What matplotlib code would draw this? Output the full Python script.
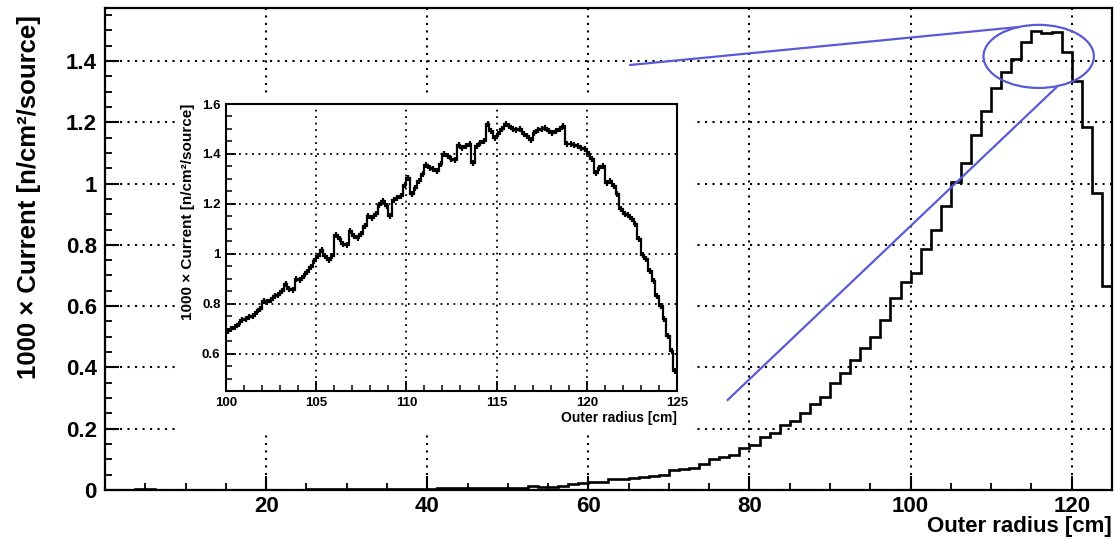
import numpy as np
import matplotlib
matplotlib.use("Agg")
import matplotlib.pyplot as plt
from matplotlib.patches import Rectangle, Ellipse
from matplotlib.ticker import MultipleLocator, FuncFormatter

plt.rcParams['font.family'] = ['Liberation Sans', 'DejaVu Sans']
plt.rcParams['font.weight'] = 'bold'
plt.rcParams['axes.labelweight'] = 'bold'

# main histogram: 100 bins over 0..125 cm
main_range = (0, 125)
main_vals = [0.0, 0.0, 0.0, 0.004, 0.002, 0.001, 0.001, 0.001, 0.001, 0.001,
             0.001, 0.001, 0.001, 0.001, 0.001, 0.001, 0.001, 0.001, 0.001, 0.001,
             0.002, 0.002, 0.002, 0.002, 0.002, 0.002, 0.004, 0.004, 0.004, 0.004,
             0.004, 0.004, 0.004, 0.005, 0.005, 0.005, 0.005, 0.005, 0.005, 0.005,
             0.005, 0.007, 0.012, 0.011, 0.010, 0.013, 0.020, 0.022, 0.025, 0.027,
             0.035, 0.037, 0.040, 0.043, 0.046, 0.050, 0.064, 0.067, 0.073, 0.085,
             0.101, 0.108, 0.115, 0.136, 0.147, 0.174, 0.185, 0.212, 0.226, 0.252,
             0.282, 0.303, 0.350, 0.383, 0.423, 0.464, 0.500, 0.554, 0.626, 0.680,
             0.709, 0.787, 0.849, 0.927, 1.006, 1.066, 1.160, 1.237, 1.313, 1.365,
             1.405, 1.463, 1.498, 1.490, 1.496, 1.430, 1.335, 1.184, 0.968, 0.666]

# zoomed histogram: 0.2 cm bins over 100..125 cm
inset_range = (100, 125)
inset_vals = [0.69, 0.70, 0.705, 0.72, 0.735, 0.74, 0.745, 0.75, 0.765, 0.78,
              0.81, 0.805, 0.815, 0.83, 0.835, 0.85, 0.88, 0.86, 0.855, 0.90,
              0.895, 0.91, 0.925, 0.945, 0.97, 0.99, 1.015, 0.99, 0.975, 0.99,
              1.075, 1.06, 1.04, 1.035, 1.09, 1.07, 1.065, 1.08, 1.11, 1.15,
              1.145, 1.16, 1.195, 1.21, 1.19, 1.15, 1.215, 1.225, 1.23, 1.275,
              1.305, 1.24, 1.265, 1.29, 1.32, 1.355, 1.345, 1.34, 1.33, 1.36,
              1.40, 1.39, 1.38, 1.375, 1.435, 1.425, 1.43, 1.44, 1.365, 1.43,
              1.445, 1.45, 1.52, 1.49, 1.465, 1.48, 1.50, 1.52, 1.51, 1.50,
              1.495, 1.50, 1.48, 1.47, 1.455, 1.485, 1.495, 1.50, 1.505, 1.49,
              1.485, 1.49, 1.50, 1.51, 1.44, 1.44, 1.435, 1.43, 1.425, 1.42,
              1.40, 1.38, 1.325, 1.345, 1.35, 1.285, 1.29, 1.27, 1.24, 1.18,
              1.16, 1.155, 1.14, 1.12, 1.06, 0.995, 0.98, 0.93, 0.89, 0.83,
              0.79, 0.74, 0.67, 0.61, 0.53]
inset_err = 0.012

ylab = "1000 \u00d7 Current [n/cm\u00b2/source]"
xlab = "Outer radius [cm]"
blue = '#5a5ad6'
dots = (0, (1, 2.6))
fmt = FuncFormatter(lambda v, p: '%g' % round(v, 3))

fig = plt.figure(figsize=(11.16, 5.4), dpi=100)

# ---- main plot
ax = fig.add_axes([0.0941, 0.0926, 0.9023, 0.8926])
edges = np.linspace(main_range[0], main_range[1], len(main_vals) + 1)
ax.stairs(main_vals, edges, color='k', lw=1.9, baseline=None, zorder=3)
ax.set_xlim(*main_range)
ax.set_ylim(0, 1.573)
ax.set_xticks(np.arange(20, 121, 20))
ax.xaxis.set_minor_locator(MultipleLocator(5))
ax.set_yticks(np.arange(0, 1.41, 0.2))
ax.yaxis.set_minor_locator(MultipleLocator(0.05))
ax.yaxis.set_major_formatter(fmt)
ax.grid(True, which='major', ls=dots, color='k', lw=1.5)
ax.tick_params(which='major', direction='in', length=10, width=1.5, labelsize=16, pad=6)
ax.tick_params(axis='x', which='major', pad=4)
ax.tick_params(which='minor', direction='in', length=5, width=1.3)
for s in ax.spines.values():
    s.set_linewidth(1.6)
ax.set_ylabel(ylab, fontsize=18.5, loc='top')
ax.yaxis.set_label_coords(-0.064, 0.985)
ax.set_xlabel(xlab, fontsize=16, loc='right')
ax.xaxis.set_label_coords(1.0, -0.054)

# blue zoom markers
ax.plot([65.2, 113.4], [1.387, 1.511], color=blue, lw=1.6, zorder=4)
ax.plot([77.3, 118.1], [0.294, 1.314], color=blue, lw=1.6, zorder=4)
ax.add_patch(Ellipse((115.9, 1.415), 13.7, 0.206, fill=False, ec=blue, lw=1.6, zorder=4))

# white panel behind the inset
fig.add_artist(Rectangle((0.1595, 0.2), 0.4606, 0.624, transform=fig.transFigure,
                         facecolor='white', edgecolor='none', zorder=1))

# ---- inset
ins = fig.add_axes([0.2025, 0.2759, 0.4041, 0.5315])
ins.set_zorder(2)
iedges = np.linspace(inset_range[0], inset_range[1], len(inset_vals) + 1)
centers = 0.5 * (iedges[1:] + iedges[:-1])
ins.stairs(inset_vals, iedges, color='k', lw=1.6, baseline=None, zorder=3)
ins.errorbar(centers, inset_vals, yerr=inset_err, fmt='none', ecolor='k',
             elinewidth=1.6, capsize=0, zorder=3)
ins.set_xlim(*inset_range)
ins.set_ylim(0.45, 1.6)
ins.set_xticks(np.arange(100, 126, 5))
ins.xaxis.set_minor_locator(MultipleLocator(1))
ins.set_yticks(np.arange(0.6, 1.61, 0.2))
ins.yaxis.set_minor_locator(MultipleLocator(0.05))
ins.yaxis.set_major_formatter(fmt)
ins.grid(True, which='major', ls=dots, color='k', lw=1.3)
ins.tick_params(which='major', direction='in', length=7, width=1.3, labelsize=9.5, pad=4)
ins.tick_params(which='minor', direction='in', length=4, width=1.1)
for s in ins.spines.values():
    s.set_linewidth(1.5)
ins.set_ylabel(ylab, fontsize=11, loc='top')
ins.yaxis.set_label_coords(-0.068, 1.0)
ins.set_xlabel(xlab, fontsize=10, loc='right')
ins.xaxis.set_label_coords(1.0, -0.07)

fig.savefig("out.png", dpi=100)
